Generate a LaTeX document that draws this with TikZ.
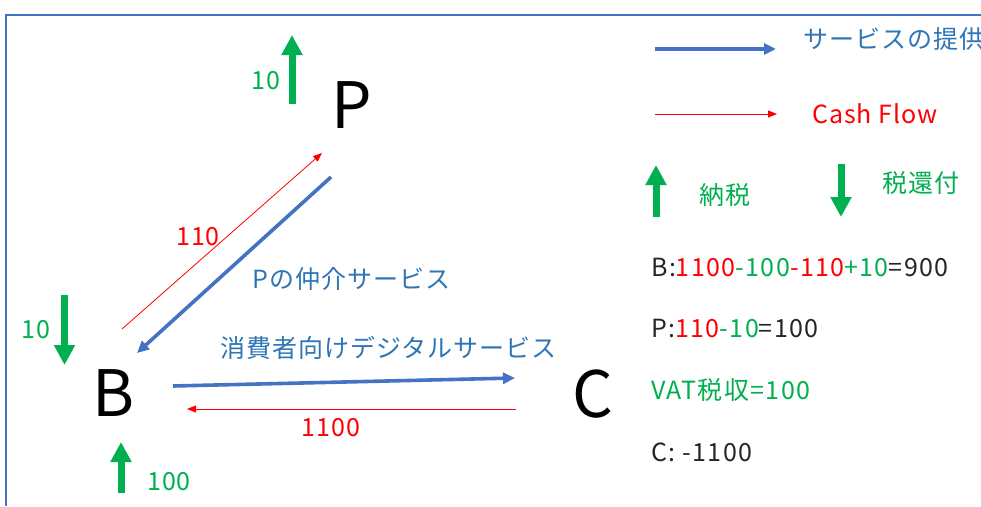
\documentclass[tikz,border=0pt]{standalone}
\usepackage{fontspec}
\setmainfont{Noto Sans CJK JP}
\newfontfamily\lblfont{Noto Sans CJK JP}[LetterSpace=4]
\newfontfamily\balfont{Noto Sans CJK JP}[LetterSpace=5.5]
\usetikzlibrary{arrows.meta}
\definecolor{svcblue}{RGB}{68,114,196}
\definecolor{svctext}{RGB}{46,117,182}
\definecolor{cashred}{RGB}{255,0,0}
\definecolor{taxgreen}{RGB}{0,176,80}
\definecolor{inkgray}{RGB}{38,38,38}
\tikzset{
  frame/.style={draw=svcblue, line width=2pt},
  party/.style={font=\fontsize{64}{64}\selectfont, text=black, inner sep=0pt},
  lbl/.style={font=\lblfont\fontsize{25}{28}\selectfont, inner sep=0pt},
  bal/.style={font=\balfont\fontsize{25}{28}\selectfont, inner sep=0pt, anchor=west},
  svcarrow/.style={draw=svcblue, line width=3.6pt, -{Triangle[length=12pt,width=11pt]}},
  cash/.style={draw=cashred, line width=0.8pt, -{Triangle[length=9pt,width=7pt]}},
  taxarrow/.style={draw=taxgreen, line width=7pt, -{Triangle[length=20pt,width=20pt]}},
}
\newcommand{\rd}[1]{\textcolor{cashred}{#1}}
\newcommand{\gr}[1]{\textcolor{taxgreen}{#1}}

\begin{document}
\begin{tikzpicture}[x=1pt,y=-1pt]
  \useasboundingbox (0,0) rectangle (981,506);
  \draw[frame] (5.5,506) -- (5.5,15) -- (981,15);

  % parties
  \node[party] (P) at (352,105) {P};
  \node[party] (B) at (114,393) {B};
  \node[party] (C) at (593,394) {C};

  % flows between parties
  \coordinate (PBs) at (331,177);  \coordinate (PBe) at (137,353);
  \coordinate (BPs) at (122,329);  \coordinate (BPe) at (322,153);
  \coordinate (BCs) at (173,386);  \coordinate (BCe) at (515,378);
  \coordinate (CBs) at (516,409);  \coordinate (CBe) at (187,409);
  \draw[svcarrow] (PBs) -- (PBe);
  \draw[cash] (BPs) -- (BPe);
  \draw[svcarrow] (BCs) -- (BCe);
  \draw[cash] (CBs) -- (CBe);
  \node[lbl, text=cashred] (l110) at (198,237) {110};
  \node[lbl, text=cashred] (l1100) at (331,428) {1100};
  \node[lbl, text=svctext, anchor=west] (lmed) at (252,279) {Pの仲介サービス};
  \node[lbl, text=svctext, anchor=west] (ldig) at (220,348) {消費者向けデジタルサービス};

  % taxes
  \coordinate (tPs) at (292,104);  \coordinate (tPe) at (292,35);
  \coordinate (tB1s) at (64.5,295); \coordinate (tB1e) at (64.5,365);
  \coordinate (tB2s) at (121,493); \coordinate (tB2e) at (121,442);
  \draw[taxarrow] (tPs) -- (tPe);
  \draw[taxarrow] (tB1s) -- (tB1e);
  \draw[taxarrow] (tB2s) -- (tB2e);
  \node[lbl, text=taxgreen] (tP) at (266,81) {10};
  \node[lbl, text=taxgreen] (tB1) at (36,330) {10};
  \node[lbl, text=taxgreen] (tB2) at (169,482) {100};

  % legend
  \coordinate (ksvcs) at (655,49);  \coordinate (ksvce) at (776,49);
  \coordinate (kcashs) at (655,114); \coordinate (kcashe) at (777,114);
  \coordinate (kpays) at (656,217); \coordinate (kpaye) at (656,165);
  \coordinate (krefs) at (841,164); \coordinate (krefe) at (841,217);
  \draw[svcarrow] (ksvcs) -- (ksvce);
  \draw[cash] (kcashs) -- (kcashe);
  \draw[taxarrow] (kpays) -- (kpaye);
  \draw[taxarrow] (krefs) -- (krefe);
  \node[lbl, text=svctext, anchor=west] (ksvc) at (803,39) {サービスの提供};
  \node[lbl, text=cashred, anchor=west] (kcash) at (812,114) {Cash Flow};
  \node[lbl, text=taxgreen, anchor=west] (kpay) at (699,195) {納税};
  \node[lbl, text=taxgreen, anchor=west] (kref) at (882,183) {税還付};

  % balances
  \node[bal, text=inkgray] (balB) at (651,267) {B:\rd{1100}\gr{-100}\rd{-110}\gr{+10}=900};
  \node[bal, text=inkgray] (balP) at (651,328) {P:\rd{110}\gr{-10}=100};
  \node[bal, text=taxgreen] (balV) at (651,390) {VAT税収=100};
  \node[bal, text=inkgray] (balC) at (651,452) {C: -1100};
\end{tikzpicture}
\end{document}
